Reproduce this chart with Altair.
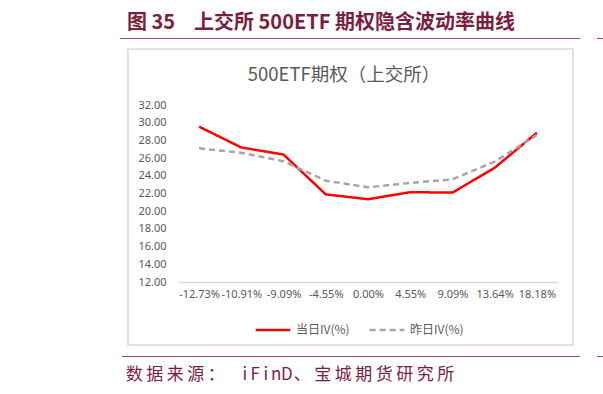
import altair as alt
import pandas as pd

moneyness = ["-12.73%", "-10.91%", "-9.09%", "-4.55%", "0.00%", "4.55%", "9.09%", "13.64%", "18.18%"]
iv_today = [29.55, 27.2, 26.4, 21.9, 21.35, 22.15, 22.1, 24.9, 28.87]
iv_yesterday = [27.1, 26.6, 25.65, 23.45, 22.7, 23.2, 23.6, 25.6, 28.6]
series_names = ["当日IV(%)", "昨日IV(%)"]

header_text = "图 35"
header_text2 = "上交所 500ETF 期权隐含波动率曲线"
chart_title = "500ETF期权（上交所）"
source_text = "数据来源： iFinD、宝城期货研究所"

rows = []
for m, a, b in zip(moneyness, iv_today, iv_yesterday):
    rows.append({"m": m, "v": a, "s": series_names[0]})
    rows.append({"m": m, "v": b, "s": series_names[1]})
df = pd.DataFrame(rows)

# plot origin is at (178, 105) in page pixels
OX, OY = 178, 105
one = pd.DataFrame({"a": [0]})
MAROON = "#7B1E3E"
RULE = "#9A4A6A"

box = alt.Chart(one).mark_rect(fill="white", stroke="#D9D9D9", strokeWidth=1.5).encode(
    x=alt.value(128 - OX), x2=alt.value(573 - OX), y=alt.value(49 - OY), y2=alt.value(345 - OY))
hline = alt.Chart(one).mark_rule(color=RULE, strokeWidth=1).encode(
    x=alt.value(120 - OX), x2=alt.value(580 - OX), y=alt.value(38.5 - OY))
hline2 = alt.Chart(one).mark_rule(color=RULE, strokeWidth=1).encode(
    x=alt.value(597 - OX), x2=alt.value(603 - OX), y=alt.value(38.5 - OY))
fline = alt.Chart(one).mark_rule(color=RULE, strokeWidth=1).encode(
    x=alt.value(122 - OX), x2=alt.value(580 - OX), y=alt.value(356.5 - OY))
fline2 = alt.Chart(one).mark_rule(color=RULE, strokeWidth=1).encode(
    x=alt.value(597 - OX), x2=alt.value(603 - OX), y=alt.value(356.5 - OY))


def txt(t, x, y, size, color, weight="normal", align="left", font="Noto Sans CJK SC"):
    return alt.Chart(pd.DataFrame({"t": [t]})).mark_text(
        align=align, baseline="alphabetic", fontSize=size, color=color,
        fontWeight=weight, font=font).encode(
        text="t:N", x=alt.value(x - OX), y=alt.value(y - OY))


# footer laid out in fixed cells (monospaced look of the original)
src_chars, src_x = [], []
cx = 124.0
for ch in source_text:
    if ch == " ":
        cx += 13.0
        continue
    w = 20.5 if ord(ch) > 255 else 10.5
    if ch == "、":
        w = 20.5
    src_chars.append(ch)
    src_x.append(cx + w / 2 - OX)
    cx += w
src_df = pd.DataFrame({"t": src_chars, "px": src_x})
src = alt.Chart(src_df).mark_text(align="center", baseline="alphabetic", fontSize=17,
                                  color=MAROON, font="Noto Sans CJK SC").encode(
    text="t:N", x=alt.X("px:Q", scale=None), y=alt.value(380 - OY))

h1 = txt(header_text, 127, 29, 20, MAROON, "bold")
h2 = txt(header_text2, 194, 29, 20, MAROON, "bold")
ct = txt(chart_title, 344, 81, 18.5, "#595959", align="center")

lines = alt.Chart(df).mark_line(strokeWidth=2.5, clip=False).encode(
    x=alt.X("m:N", sort=moneyness, title=None,
            scale=alt.Scale(paddingInner=0, paddingOuter=0.5),
            axis=alt.Axis(labelAngle=0, ticks=False, domainColor="#D9D9D9", domainWidth=1.5,
                          labelColor="#595959", labelFontSize=11, labelFont="Noto Sans",
                          labelPadding=6, grid=False, zindex=2)),
    y=alt.Y("v:Q", title=None,
            scale=alt.Scale(domain=[12, 32], nice=False, zero=False),
            axis=alt.Axis(values=list(range(12, 33, 2)), format=".2f", domain=False, ticks=False,
                          grid=False, labelColor="#595959", labelFontSize=11, labelFont="Noto Sans",
                          labelPadding=12, zindex=2)),
    color=alt.Color("s:N", sort=series_names,
                    scale=alt.Scale(domain=series_names, range=["#FF0000", "#A6A6A6"]),
                    legend=alt.Legend(title=None, orient="none", legendX=254 - OX, legendY=311 - OY,
                                      direction="horizontal", symbolType="stroke",
                                      symbolSize=1200, symbolStrokeWidth=2.5,
                                      labelColor="#595959", labelFontSize=12,
                                      labelFont="Noto Sans CJK SC", columnPadding=14,
                                      labelOffset=4, zindex=2)),
    strokeDash=alt.StrokeDash("s:N", sort=series_names,
                              scale=alt.Scale(domain=series_names, range=[[1, 0], [6, 4]]),
                              legend=None),
)

chart = alt.layer(box, hline, hline2, fline, fline2, h1, h2, ct, src, lines).properties(
    width=380, height=177,
    autosize=alt.AutoSizeParams(type="none"),
    padding={"left": OX, "top": OY, "right": 603 - OX - 380, "bottom": 394 - OY - 177},
).configure_view(stroke=None).configure(background="white")

chart.save("out.html", embed_options={"renderer": "svg", "actions": False})
